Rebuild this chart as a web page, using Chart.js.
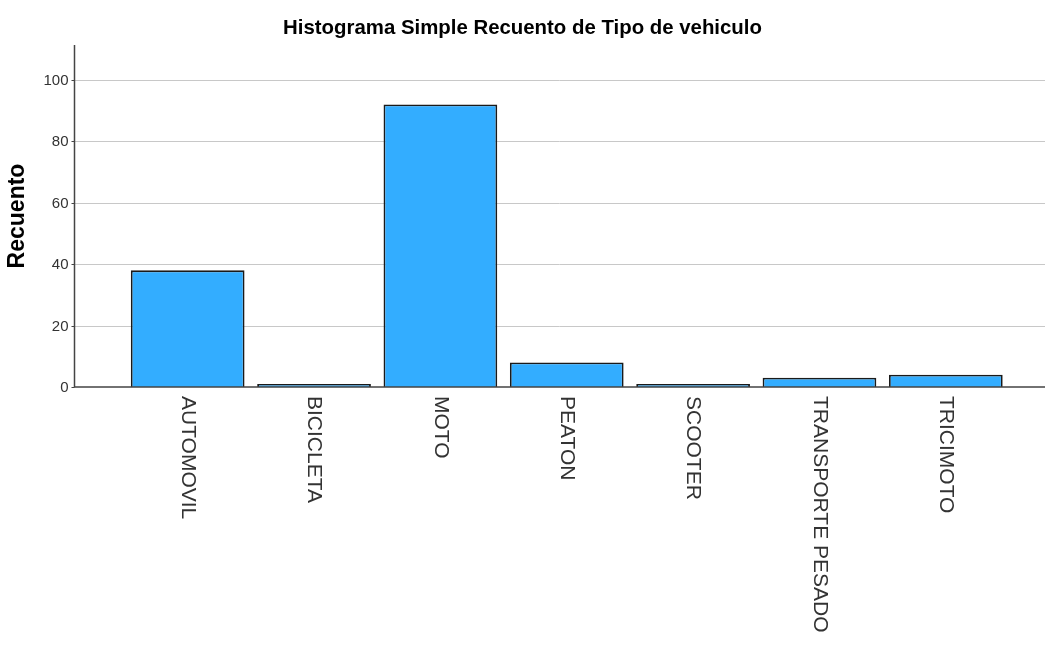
<!DOCTYPE html>
<html>
<head>
<meta charset="utf-8">
<script src="https://cdn.jsdelivr.net/npm/chart.js@4/dist/chart.umd.min.js"></script>
<style>
  html, body { margin: 0; padding: 0; background: #fff; }
  #wrap { width: 1045px; height: 646px; }
</style>
</head>
<body>
<div id="wrap"><canvas id="chart"></canvas></div>
<script>
// DATA
const categories = ["AUTOMOVIL", "BICICLETA", "MOTO", "PEATON", "SCOOTER", "TRANSPORTE PESADO", "TRICIMOTO"];
const counts = [38, 1, 92, 8, 1, 3, 4];
const yTicks = [0, 20, 40, 60, 80, 100];

const FONT = "'Liberation Sans', Arial, sans-serif";

// axes, grid lines and tick labels drawn SPSS style
const spssAxes = {
  id: "spssAxes",
  beforeDatasetsDraw(chart) {
    const { ctx, chartArea, scales } = chart;
    const axisX = chartArea.left - 50;
    ctx.save();
    ctx.strokeStyle = "#c8c8c8";
    ctx.lineWidth = 1;
    yTicks.forEach(v => {
      if (v === 0) return;
      const y = Math.round(scales.y.getPixelForValue(v)) + 0.5;
      ctx.beginPath();
      ctx.moveTo(axisX, y);
      ctx.lineTo(chart.width, y);
      ctx.stroke();
    });
    ctx.restore();
  },
  afterDatasetsDraw(chart) {
    const { ctx, chartArea, scales } = chart;
    const axisX = chartArea.left - 50;
    const y0 = scales.y.getPixelForValue(0);
    ctx.save();
    ctx.strokeStyle = "#444";
    ctx.lineWidth = 1.5;
    ctx.beginPath();
    ctx.moveTo(axisX, chartArea.top);
    ctx.lineTo(axisX, y0);
    ctx.lineTo(chart.width, y0);
    ctx.stroke();

    // y ticks + labels
    ctx.lineWidth = 1;
    ctx.fillStyle = "#333";
    ctx.font = "15px " + FONT;
    ctx.textAlign = "right";
    ctx.textBaseline = "middle";
    yTicks.forEach(v => {
      const y = Math.round(scales.y.getPixelForValue(v)) + 0.5;
      ctx.beginPath();
      ctx.moveTo(axisX - 3, y);
      ctx.lineTo(axisX, y);
      ctx.stroke();
      ctx.fillText(String(v), axisX - 6, y);
    });

    // category labels, rotated clockwise
    ctx.font = "21px " + FONT;
    ctx.textAlign = "left";
    categories.forEach((c, i) => {
      const x = scales.x.getPixelForTick(i);
      ctx.save();
      ctx.translate(x, y0 + 9);
      ctx.rotate(Math.PI / 2);
      ctx.fillText(c, 0, 0);
      ctx.restore();
    });
    ctx.restore();
  }
};

new Chart(document.getElementById("chart"), {
  type: "bar",
  data: {
    labels: categories,
    datasets: [{
      data: counts,
      backgroundColor: "#33adff",
      borderColor: "#1a1a1a",
      borderWidth: 1.8,
      barPercentage: 0.9,
      categoryPercentage: 1
    }]
  },
  options: {
    responsive: true,
    maintainAspectRatio: false,
    animation: false,
    layout: { padding: { left: 36, right: 36, top: 0, bottom: 0 } },
    plugins: {
      legend: { display: false },
      tooltip: { enabled: false },
      title: {
        display: true,
        text: "Histograma Simple Recuento de Tipo de vehiculo",
        color: "#000",
        font: { family: FONT, size: 20.4, weight: "bold" },
        padding: { top: 16, bottom: 4.5 }
      }
    },
    scales: {
      x: {
        offset: true,
        grid: { display: false, drawTicks: false },
        border: { display: false },
        ticks: { display: false },
        afterFit(scale) { scale.height = 259; }
      },
      y: {
        min: 0,
        max: 111.4,
        grid: { display: false, drawTicks: false },
        border: { display: false },
        ticks: { display: false },
        title: {
          display: true,
          text: "Recuento",
          color: "#000",
          font: { family: FONT, size: 23, weight: "bold" },
          padding: { top: -32, bottom: 0 }
        },
        afterFit(scale) { scale.width = 88.5; }
      }
    }
  },
  plugins: [spssAxes]
});
</script>
</body>
</html>
